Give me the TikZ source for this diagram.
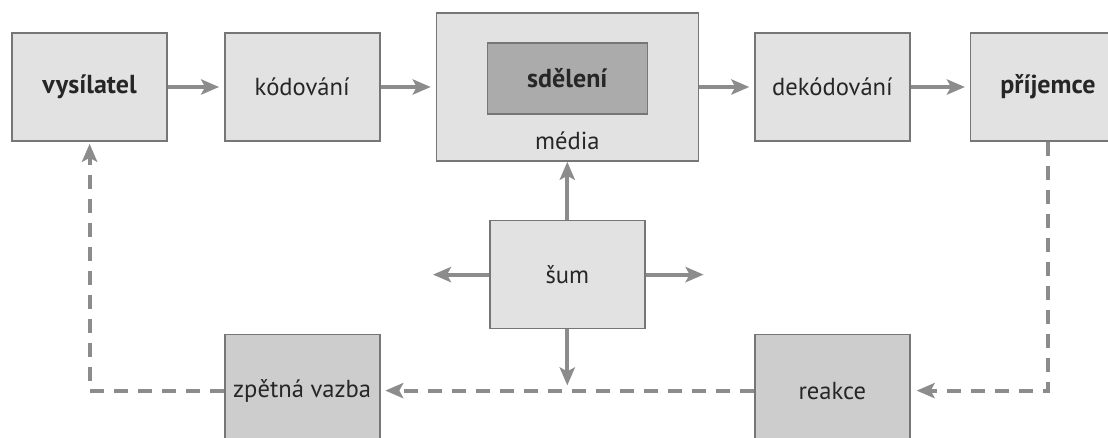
\documentclass[tikz,border=0pt]{standalone}
\usepackage{fontspec}
\setmainfont{PT Sans}
\usetikzlibrary{positioning, arrows.meta}
\definecolor{boxlight}{HTML}{E2E2E2}
\definecolor{boxdark}{HTML}{CDCDCD}
\definecolor{boxinner}{HTML}{ABABAB}
\definecolor{edgegray}{HTML}{767676}
\definecolor{arrowgray}{HTML}{8C8C8C}

\begin{document}
\begin{tikzpicture}[
	box/.style={rectangle, draw=edgegray, line width=0.4mm, fill=boxlight, inner sep=0pt, minimum width=38.75mm, minimum height=27mm, font=\fontsize{17.5}{20}\selectfont, text=black!85},
	fbbox/.style={box, fill=boxdark, minimum height=28mm},
	mediabox/.style={box, minimum width=65.5mm, minimum height=37mm},
	inbox/.style={box, fill=boxinner, minimum width=40mm, minimum height=17.75mm, font=\fontsize{18.5}{20}\selectfont\bfseries},
	bold/.style={font=\fontsize{18.5}{20}\selectfont\bfseries},
	textb/.style={inner sep=0pt, font=\fontsize{17.5}{20}\selectfont, text=black!85},
	flow/.style={draw=arrowgray, line width=1mm, -{Stealth[length=4.5mm, width=3.8mm, inset=1mm]}},
	fb/.style={flow, dash pattern=on 3.5mm off 2.5mm}
]

\clip (0,0) rectangle (277mm,-109.25mm);

\node[box, bold] (vys) at (22.4mm,-21.75mm) {vysílatel};
\node[box, right=14mm of vys] (kod) {kódování};
\node[mediabox, right=13.75mm of kod] (media) {};
\node[inbox, below=7.5mm of media.north] (sdel) {sdělení};
\node[textb, below=4.2mm of sdel] (medt) {média};
\node[box, right=13.75mm of media] (dek) {dekódování};
\node[box, bold, right=14.75mm of dek] (prij) {příjemce};
\node[box, below=14.5mm of media] (sum) {šum};
\node[fbbox, below=48mm of kod] (zpv) {zpětná vazba};
\node[fbbox, below=48mm of dek] (reak) {reakce};

\coordinate[left=14mm of sum] (sumL);
\coordinate[right=14.5mm of sum] (sumR);
\coordinate[below=14mm of sum] (sumD);

\foreach \i/\j in {vys/kod, kod/media, media/dek, dek/prij}
	\draw[flow, shorten >=1.2mm] (\i) -- (\j);

\foreach \j in {media, sumL, sumR, sumD}
	\draw[flow] (sum) -- (\j);

\draw[fb, shorten >=1.5mm] (prij) |- (reak);
\draw[fb, shorten >=1.2mm] (reak) -- (zpv);
\draw[fb, shorten >=0.5mm] (zpv) -| (vys);

\end{tikzpicture}
\end{document}
